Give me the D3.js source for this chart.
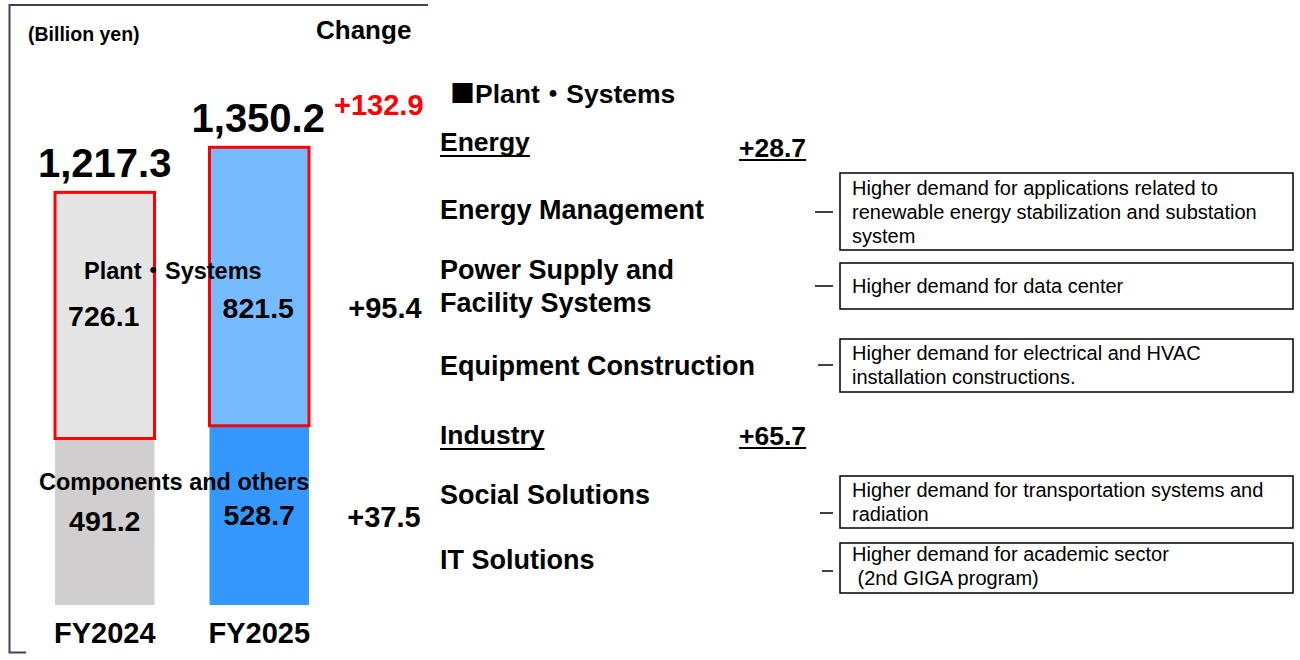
<!DOCTYPE html>
<html>
<head>
<meta charset="utf-8">
<script src="https://cdn.jsdelivr.net/npm/d3@7"></script>
<style>
  html, body { margin: 0; padding: 0; background: #fff; }
  svg { display: block; font-family: "Liberation Sans", Arial, "Noto Sans CJK JP", sans-serif; }
</style>
</head>
<body>
<svg id="chart" width="1300" height="660"></svg>
<script>
// ---------------- DATA ----------------
const years = ["FY2024", "FY2025"];
const componentsValues = [491.2, 528.7];
const plantValues = [726.1, 821.5];
const totalValues = [1217.3, 1350.2];
const changeTotal = 132.9;
const changePlant = 95.4;
const changeComponents = 37.5;
const unitLabel = "(Billion yen)";
const changeTitle = "Change";
const seriesNames = ["Plant・Systems", "Components and others"];

const sectionMarker = "■";
const sectionTitle = "Plant・Systems";
const groupNames = ["Energy", "Industry"];
const groupChanges = [28.7, 65.7];
const subSegments = [
  ["Energy Management"],
  ["Power Supply and", "Facility Systems"],
  ["Equipment Construction"],
  ["Social Solutions"],
  ["IT Solutions"]
];
const notes = [
  ["Higher demand for applications related to", "renewable energy stabilization and substation", "system"],
  ["Higher demand for data center"],
  ["Higher demand for electrical and HVAC", "installation constructions."],
  ["Higher demand for transportation systems and", "radiation"],
  ["Higher demand for academic sector", " (2nd GIGA program)"]
];

// ---------------- LAYOUT ----------------
const colorsPlant = ["#e4e4e4", "#77bbff"];
const colorsComp = ["#d0cece", "#3399ff"];
const fmt = d3.format(",.1f");
const fmtChange = v => "+" + d3.format(".1f")(v);

const svg = d3.select("#chart");

const x = d3.scaleBand().domain(years).range([55, 309]).paddingInner(0.356);
const y = d3.scaleLinear().domain([0, 1350.2]).range([605, 147.3]);

// frame
const frameColor = "#404060";
svg.append("path")
  .attr("d", "M428,5 H9.5 V652.5 H26")
  .attr("fill", "none").attr("stroke", frameColor).attr("stroke-width", 2);

// bars: components
svg.selectAll("rect.comp").data(years).join("rect")
  .attr("class", "comp")
  .attr("x", d => x(d)).attr("width", x.bandwidth())
  .attr("y", (d, i) => y(componentsValues[i]))
  .attr("height", (d, i) => y(0) - y(componentsValues[i]))
  .attr("fill", (d, i) => colorsComp[i]);

// bars: plant & systems
svg.selectAll("rect.plant").data(years).join("rect")
  .attr("class", "plant")
  .attr("x", d => x(d)).attr("width", x.bandwidth())
  .attr("y", (d, i) => y(componentsValues[i] + plantValues[i]))
  .attr("height", (d, i) => y(componentsValues[i]) - y(componentsValues[i] + plantValues[i]))
  .attr("fill", (d, i) => colorsPlant[i])
  .attr("stroke", "#ff0000").attr("stroke-width", 3);

function txt(s, xp, yp, size, opts = {}) {
  return svg.append("text")
    .attr("x", xp).attr("y", yp)
    .attr("font-size", size)
    .attr("font-weight", opts.weight || "bold")
    .attr("fill", opts.fill || "#000")
    .attr("text-anchor", opts.anchor || "start")
    .text(s);
}

// headings
txt(unitLabel, 28, 41, 19.5);
txt(changeTitle, 316, 39, 26);

// totals
years.forEach((yr, i) => {
  const cx = x(yr) + x.bandwidth() / 2;
  txt(fmt(totalValues[i]), cx + (i === 0 ? 0 : -1), y(totalValues[i]) - 15, 40, { anchor: "middle" });
  // x-axis labels
  txt(yr, cx, 643, 29, { anchor: "middle" });
});
txt(fmtChange(changeTotal), 334, 115, 29, { fill: "#ff0000" });

// series labels
txt(seriesNames[0], 84, 279, 23.5);
txt(seriesNames[1], 39, 490, 23.5);

// segment values
const plantLabelY = [326, 318];
const compLabelY = [531, 525];
years.forEach((yr, i) => {
  const cx = x(yr) + x.bandwidth() / 2;
  txt(fmt(plantValues[i]), cx - 1, plantLabelY[i], 28.5, { anchor: "middle" });
  txt(fmt(componentsValues[i]), cx, compLabelY[i], 28.5, { anchor: "middle" });
});
txt(fmtChange(changePlant), 385, 318, 29, { anchor: "middle" });
txt(fmtChange(changeComponents), 384, 527, 29, { anchor: "middle" });

// ---------------- RIGHT PANEL ----------------
const title = svg.append("text").attr("x", 450).attr("y", 103)
  .attr("font-size", 26.5).attr("font-weight", "bold");
title.append("tspan").attr("font-family", "'Noto Sans CJK JP'").attr("font-size", 25).text(sectionMarker);
title.append("tspan").text(sectionTitle);

const groupY = [151, 444];
const groupChangeY = [157, 445];
groupNames.forEach((g, i) => {
  const t = txt(g, 440, groupY[i], 26.5);
  const w = t.node().getComputedTextLength();
  svg.append("line").attr("x1", 440).attr("x2", 440 + w)
    .attr("y1", groupY[i] + 5).attr("y2", groupY[i] + 5)
    .attr("stroke", "#000").attr("stroke-width", 2);
  const c = txt(fmtChange(groupChanges[i]), 739, groupChangeY[i], 26.5);
  const wc = c.node().getComputedTextLength();
  svg.append("line").attr("x1", 739).attr("x2", 739 + wc)
    .attr("y1", groupChangeY[i] + 3).attr("y2", groupChangeY[i] + 3)
    .attr("stroke", "#000").attr("stroke-width", 2);
});

const subY = [[219], [279, 312], [375], [504], [569]];
subSegments.forEach((lines, i) => {
  lines.forEach((l, j) => txt(l, 440, subY[i][j], 27));
});

const boxes = [
  { top: 173, bottom: 250, dashY: 212, dashX1: 815, baselines: [195, 219, 243] },
  { top: 263, bottom: 309, dashY: 286, dashX1: 815, baselines: [293] },
  { top: 339, bottom: 392, dashY: 365, dashX1: 818, baselines: [360, 384] },
  { top: 476, bottom: 528, dashY: 513, dashX1: 820, baselines: [497, 521] },
  { top: 543, bottom: 593, dashY: 571, dashX1: 822, baselines: [561, 585] }
];
const boxX0 = 840, boxX1 = 1293;
notes.forEach((lines, i) => {
  const b = boxes[i];
  svg.append("rect")
    .attr("x", boxX0).attr("y", b.top)
    .attr("width", boxX1 - boxX0).attr("height", b.bottom - b.top)
    .attr("fill", "#fff").attr("stroke", "#000").attr("stroke-width", 1.5);
  svg.append("line")
    .attr("x1", b.dashX1).attr("x2", 833)
    .attr("y1", b.dashY).attr("y2", b.dashY)
    .attr("stroke", "#000").attr("stroke-width", 1.5);
  lines.forEach((l, j) => {
    txt(l, 852, b.baselines[j], 20, { weight: "normal" }).style("white-space", "pre");
  });
});
</script>
</body>
</html>
